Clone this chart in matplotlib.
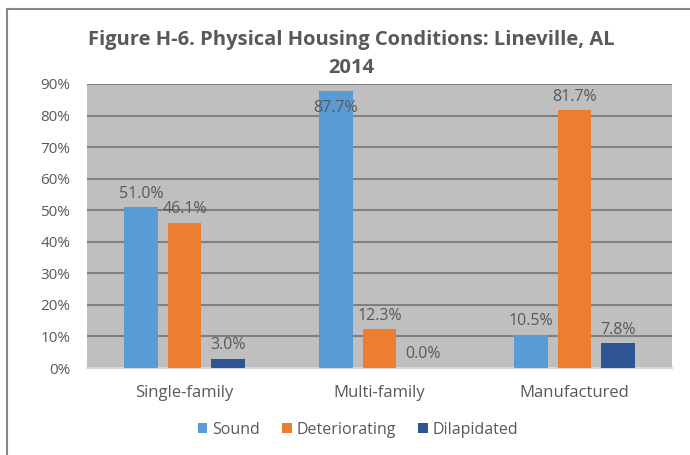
import matplotlib.pyplot as plt
import matplotlib.lines as mlines
import numpy as np

plt.rcParams['font.family'] = ['Open Sans', 'DejaVu Sans']

categories = ["Single-family", "Multi-family", "Manufactured"]
series = ["Sound", "Deteriorating", "Dilapidated"]
sound = [51.0, 87.7, 10.5]
deteriorating = [46.1, 12.3, 81.7]
dilapidated = [3.0, 0.0, 7.8]
colors = ["#5B9BD5", "#ED7D31", "#2F5597"]
yticks = [0, 10, 20, 30, 40, 50, 60, 70, 80, 90]

txt = "#595959"

fig = plt.figure(figsize=(6.9, 4.55), dpi=100)
ax = fig.add_axes([87/690, 1 - 368/455, 585/690, 284/455])
ax.set_facecolor("#BFBFBF")

x = np.arange(len(categories))
width = 0.174
step = 0.223
for i, (name, vals) in enumerate(zip(series, [sound, deteriorating, dilapidated])):
    pos = x + (i - 1) * step
    ax.bar(pos, vals, width, color=colors[i], label=name, zorder=3)
    for p, v in zip(pos, vals):
        if v > 85:
            # no room above the bar, label goes inside
            ax.annotate(f"{v:.1f}%", (p, v), xytext=(0, -6), textcoords="offset points",
                        ha="center", va="top", fontsize=11.5, color=txt, zorder=4)
        else:
            ax.annotate(f"{v:.1f}%", (p, v), xytext=(0, 4), textcoords="offset points",
                        ha="center", va="bottom", fontsize=11.5, color=txt, zorder=4)

ax.set_xlim(-0.5, 2.5)
ax.set_ylim(0, 90)
ax.set_yticks(yticks)
ax.set_yticklabels([f"{t}%" for t in yticks])
ax.yaxis.grid(True, color="#808080", linewidth=1.5, zorder=1)
ax.set_axisbelow(True)
ax.set_xticks(x)
ax.set_xticklabels(categories)
ax.tick_params(axis="both", length=0, labelsize=11, labelcolor=txt)
ax.tick_params(axis="x", pad=12, labelsize=12)
ax.tick_params(axis="y", pad=12)
for s in ["top", "left", "right"]:
    ax.spines[s].set_visible(False)
ax.spines["bottom"].set_color("#D9D9D9")
ax.spines["bottom"].set_linewidth(1.5)

fig.text(351/690, 1 - 54/455, "Figure H-6. Physical Housing Conditions: Lineville, AL\n2014",
         ha="center", va="center", fontsize=14.5, fontweight="bold", color=txt, linespacing=1.5)

fig.legend(loc="center", bbox_to_anchor=(358/690, 1 - 430/455), ncol=3, frameon=False,
           fontsize=11.5, labelcolor=txt, handlelength=0.6, handleheight=0.6,
           handletextpad=0.3, columnspacing=1.4)

fig.add_artist(mlines.Line2D([7/690, 7/690], [0, 1 - 9/455], color="#878787", linewidth=1.5))
fig.add_artist(mlines.Line2D([7/690, 1], [1 - 9/455, 1 - 9/455], color="#878787", linewidth=1.5))

fig.savefig("out.png", dpi=100)
